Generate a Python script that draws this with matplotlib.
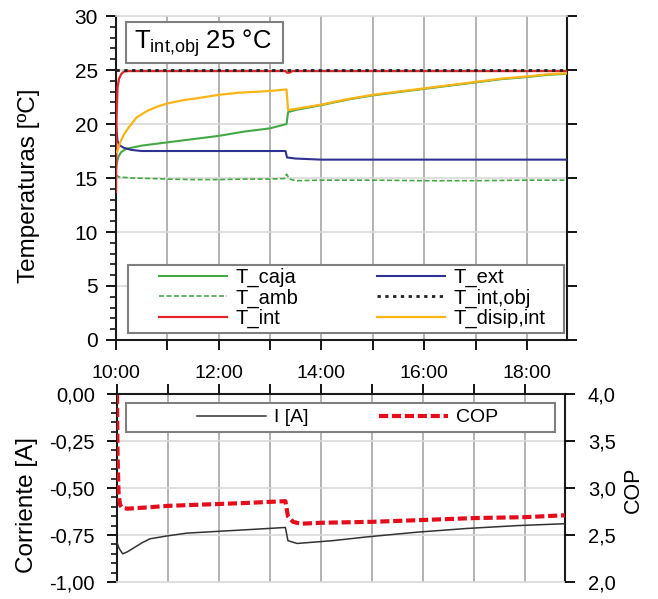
import numpy as np
import matplotlib
matplotlib.use('Agg')
import matplotlib.pyplot as plt
from matplotlib.ticker import MultipleLocator, FuncFormatter
from matplotlib.patches import Rectangle

plt.rcParams['font.family'] = ['Liberation Sans', 'DejaVu Sans']

# time in hours (10.0 = 10:00)
t_int = [10.0, 10.01, 10.03, 10.06, 10.1, 10.15, 10.25, 13.3, 13.33, 13.38, 13.43, 18.78]
T_int = [13.7, 20.5, 23.4, 24.2, 24.6, 24.85, 24.9, 24.9, 24.75, 24.75, 24.9, 24.9]

t_obj = [10.0, 18.78]
T_obj = [25.0, 25.0]

t_disip = [10.0, 10.03, 10.08, 10.15, 10.25, 10.4, 10.6, 10.8, 11.0, 11.3, 11.6, 12.0, 12.4,
           12.8, 13.1, 13.32, 13.35, 13.5, 14.0, 14.5, 15.0, 15.5, 16.0, 16.5, 17.0, 17.5,
           18.0, 18.4, 18.78]
T_disip = [17.4, 17.5, 18.3, 19.0, 19.7, 20.6, 21.2, 21.6, 21.9, 22.2, 22.4, 22.7, 22.9,
           23.0, 23.1, 23.2, 21.3, 21.4, 21.8, 22.3, 22.7, 23.0, 23.3, 23.6, 23.9, 24.2,
           24.4, 24.6, 24.7]

t_caja = [10.0, 10.02, 10.05, 10.1, 10.2, 10.5, 11.0, 11.5, 12.0, 12.5, 13.0, 13.32,
          13.35, 13.5, 14.0, 14.5, 15.0, 15.5, 16.0, 16.5, 17.0, 17.5, 18.0, 18.4, 18.78]
T_caja = [15.8, 16.5, 17.0, 17.4, 17.7, 18.0, 18.3, 18.6, 18.9, 19.3, 19.6, 20.0,
          21.1, 21.3, 21.75, 22.25, 22.65, 22.95, 23.25, 23.55, 23.85, 24.15, 24.35, 24.55, 24.65]

t_ext = [10.0, 10.03, 10.08, 10.15, 10.3, 10.5, 13.3, 13.33, 13.5, 14.0, 18.78]
T_ext = [19.9, 18.4, 18.0, 17.8, 17.6, 17.5, 17.5, 16.9, 16.8, 16.7, 16.7]

t_amb = [10.0, 10.05, 10.3, 10.7, 11.0, 11.5, 12.0, 12.5, 13.0, 13.28, 13.32, 13.38,
         13.5, 14.0, 15.0, 16.0, 17.0, 18.0, 18.78]
T_amb = [15.3, 15.1, 15.0, 14.95, 14.9, 14.85, 14.85, 14.9, 14.9, 14.95, 15.35, 14.9,
         14.75, 14.8, 14.8, 14.75, 14.75, 14.8, 14.8]

t_I = [10.0, 10.04, 10.11, 10.2, 10.32, 10.5, 10.65, 10.98, 11.37, 12.02, 12.67, 13.3,
       13.35, 13.53, 14.23, 14.9, 15.88, 16.87, 17.85, 18.78]
I_A = [-0.79, -0.82, -0.85, -0.84, -0.82, -0.79, -0.77, -0.755, -0.74, -0.73, -0.72, -0.71,
       -0.78, -0.795, -0.78, -0.76, -0.735, -0.715, -0.70, -0.69]

t_cop = [10.0, 10.01, 10.03, 10.06, 10.1, 10.2, 10.5, 11.0, 11.5, 12.0, 12.5, 13.3,
         13.35, 13.45, 13.6, 14.0, 15.0, 16.0, 17.0, 18.0, 18.78]
COP = [3.99, 3.37, 2.95, 2.82, 2.79, 2.78, 2.79, 2.81, 2.82, 2.83, 2.84, 2.86,
       2.70, 2.64, 2.62, 2.63, 2.64, 2.66, 2.68, 2.69, 2.71]

x_min, x_max = 10.0, 18.78

def time_fmt(v, p):
    h = int(round(v))
    return '%d:00' % h if h % 2 == 0 else ''

def comma_fmt(dec):
    return FuncFormatter(lambda v, p: ('%.*f' % (dec, v)).replace('.', ','))
#
def style_grid(ax, hlines):
    for h in np.arange(11, 19):
        ax.axvline(h, color='#a6a6a6', lw=1.2, zorder=0)
    for v in hlines:
        ax.axhline(v, color='#d9d9d9', lw=1.2, zorder=0)
#
fig = plt.figure(figsize=(6.58, 5.99), dpi=100)

# ---- top: temperatures
W1, H1 = 451, 324
ax = fig.add_axes([116 / 658, 1 - 340 / 599, W1 / 658, H1 / 599])
style_grid(ax, [5, 10, 15, 20, 25])
ax.plot(t_caja, T_caja, color='#44a845', lw=1.5, label='T_caja', zorder=3)
ax.plot(t_amb, T_amb, color='#44a845', lw=1.2, ls=(0, (3, 1.5)), label='T_amb', zorder=3)
ax.plot(t_int, T_int, color='#e2252b', lw=1.6, label='T_int', zorder=4)
ax.plot(t_ext, T_ext, color='#2e3192', lw=1.5, label='T_ext', zorder=3)
ax.plot(t_obj, T_obj, color='#222222', lw=2.0, ls=(0, (1.2, 1.6)), label='T_int,obj', zorder=5)
ax.plot(t_disip, T_disip, color='#fbb417', lw=1.6, label='T_disip,int', zorder=4)

ax.set_xlim(x_min, x_max)
ax.set_ylim(0, 30)
ax.xaxis.set_major_locator(MultipleLocator(1))
ax.xaxis.set_major_formatter(FuncFormatter(time_fmt))
ax.yaxis.set_major_locator(MultipleLocator(5))
ax.yaxis.set_minor_locator(MultipleLocator(1))
ax.tick_params(axis='x', direction='out', length=7, width=1.3, pad=11, labelsize=14)
ax.tick_params(axis='y', which='major', direction='out', length=7, width=1.3, pad=6,
               labelsize=15, right=True)
ax.tick_params(axis='y', which='minor', direction='out', length=4, width=1.1)
for s in ['left', 'bottom', 'right']:
    ax.spines[s].set_color('#1a1a1a')
    ax.spines[s].set_linewidth(1.5)
ax.spines['top'].set_color('#d9d9d9')
ax.spines['top'].set_linewidth(1.2)
ax.set_ylabel('Temperaturas [ºC]', fontsize=17.5)
ax.yaxis.set_label_coords(-0.168, 0.475)

# title box
ax.add_patch(Rectangle((10 / W1, (340 - 63) / H1), (283 - 126) / W1, 41 / H1,
                       transform=ax.transAxes, fc='white', ec='#7f7f7f', lw=1.5, zorder=5))
ax.text((134 - 116) / W1, (340 - 43) / H1, r'$\mathregular{T_{int{,}obj}}$ 25 °C',
        transform=ax.transAxes, fontsize=18.5, va='center', ha='left', zorder=6)

# legend box
ax.add_patch(Rectangle(((128 - 116) / W1, (340 - 333) / H1), (564 - 128) / W1, (333 - 265) / H1,
                       transform=ax.transAxes, fc='white', ec='#7f7f7f', lw=1.5, zorder=6))
leg = ax.legend(ncol=2, loc='center', bbox_to_anchor=((352 - 116) / W1, (340 - 298) / H1),
                frameon=False, fontsize=14.5, handlelength=3.4, handletextpad=0.4,
                columnspacing=3.9, labelspacing=0.05, borderaxespad=0, borderpad=0)
leg.set_zorder(7)

# ---- bottom: current and COP
W2, H2 = 448, 188
ax2 = fig.add_axes([117 / 658, 1 - 582 / 599, W2 / 658, H2 / 599])
style_grid(ax2, [-0.25, -0.5, -0.75])
l1, = ax2.plot(t_I, I_A, color='#333333', lw=1.1, label='I [A]', zorder=3)
ax2.set_xlim(x_min, x_max)
ax2.set_ylim(-1, 0)
ax2.xaxis.tick_top()
ax2.xaxis.set_major_locator(MultipleLocator(1))
ax2.tick_params(axis='x', direction='out', length=7, width=1.3, labeltop=False)
ax2.yaxis.set_major_locator(MultipleLocator(0.25))
ax2.yaxis.set_minor_locator(MultipleLocator(0.05))
ax2.yaxis.set_major_formatter(comma_fmt(2))
ax2.tick_params(axis='y', which='major', direction='out', length=7, width=1.3, pad=9, labelsize=14.5)
ax2.tick_params(axis='y', which='minor', direction='out', length=4, width=1.1)
for s in ['left', 'top', 'right']:
    ax2.spines[s].set_color('#1a1a1a')
    ax2.spines[s].set_linewidth(1.5)
ax2.spines['bottom'].set_color('#d9d9d9')
ax2.spines['bottom'].set_linewidth(1.2)
ax2.set_ylabel('Corriente [A]', fontsize=17.5)
ax2.yaxis.set_label_coords(-0.176, 0.41)

ax3 = ax2.twinx()
l2, = ax3.plot(t_cop, COP, color='#e30d1c', lw=3.0, ls=(0, (2.2, 0.9)), label='COP', zorder=3)
ax3.set_ylim(2, 4)
ax3.set_xlim(x_min, x_max)
ax3.yaxis.set_major_locator(MultipleLocator(0.5))
ax3.yaxis.set_major_formatter(comma_fmt(1))
ax3.tick_params(axis='y', direction='out', length=7, width=1.3, pad=9.5, labelsize=14.5)
for s in ax3.spines.values():
    s.set_visible(False)
ax3.set_ylabel('COP', fontsize=15.5)
ax3.yaxis.set_label_coords(1.129, 0.49)

ax3.add_patch(Rectangle(((126 - 117) / W2, (582 - 432) / H2), (555 - 126) / W2, (432 - 403) / H2,
                        transform=ax3.transAxes, fc='white', ec='#7f7f7f', lw=1.5, zorder=6))
leg2 = ax3.legend([l1, l2], ['I [A]', 'COP'], ncol=2, loc='center',
                  bbox_to_anchor=((347.5 - 117) / W2, (582 - 417.5) / H2), frameon=False,
                  fontsize=14, handlelength=3.55, handletextpad=0.41, columnspacing=3.6,
                  borderaxespad=0, borderpad=0)
leg2.set_zorder(7)

fig.savefig('out.png', dpi=100)
